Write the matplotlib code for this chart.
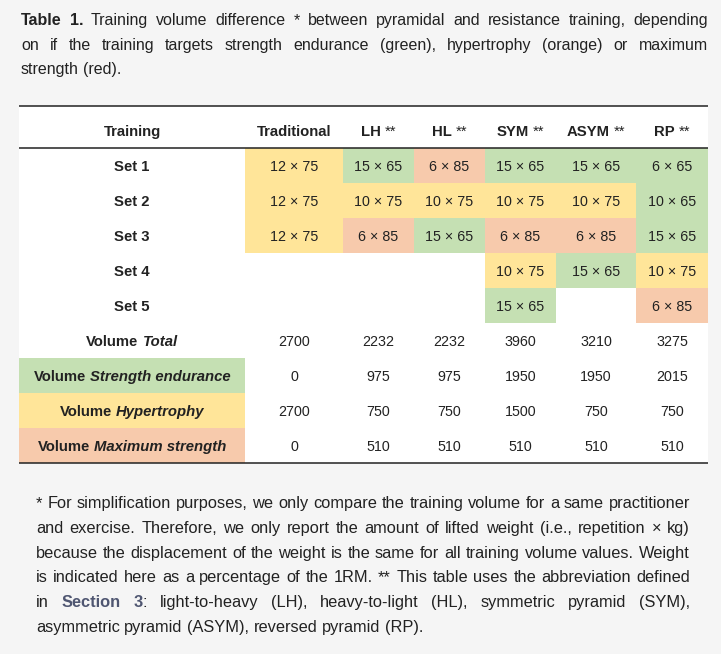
import re

import matplotlib

matplotlib.use("Agg")
import matplotlib.pyplot as plt
from matplotlib.patches import Rectangle

# ---------------- data ----------------
methods = ["Traditional", "LH", "HL", "SYM", "ASYM", "RP"]
method_marks = ["", "**", "**", "**", "**", "**"]

set_labels = ["Set 1", "Set 2", "Set 3", "Set 4", "Set 5"]
set_reps = [
    [12, 15, 6, 15, 15, 6],
    [12, 10, 10, 10, 10, 10],
    [12, 6, 15, 6, 6, 15],
    [None, None, None, 10, 15, 10],
    [None, None, None, 15, None, 6],
]
set_loads = [
    [75, 65, 85, 65, 65, 65],
    [75, 75, 75, 75, 75, 65],
    [75, 85, 65, 85, 85, 65],
    [None, None, None, 75, 65, 75],
    [None, None, None, 65, None, 85],
]
# E = strength endurance, H = hypertrophy, M = maximum strength, - = empty
set_targets = ["HEMEEE", "HHHHHE", "HMEMME", "---HEH", "---E-M"]

volume_labels = ["Total", "Strength endurance", "Hypertrophy", "Maximum strength"]
volume_targets = [None, "E", "H", "M"]
volume_total = [2700, 2232, 2232, 3960, 3210, 3275]
volume_endurance = [0, 975, 975, 1950, 1950, 2015]
volume_hypertrophy = [2700, 750, 750, 1500, 750, 750]
volume_max_strength = [0, 510, 510, 510, 510, 510]
volume_rows = [volume_total, volume_endurance, volume_hypertrophy, volume_max_strength]

title_lines = [
    "{Table} {1.} Training volume difference * between pyramidal and resistance training, depending",
    "on if the training targets strength endurance (green), hypertrophy (orange) or maximum",
    "strength (red).",
]
note_lines = [
    "* For simplification purposes, we only compare the training volume for a same practitioner",
    "and exercise. Therefore, we only report the amount of lifted weight (i.e., repetition \u00d7 kg)",
    "because the displacement of the weight is the same for all training volume values. Weight",
    "is indicated here as a percentage of the 1RM. ** This table uses the abbreviation defined",
    "in {Section} {3}: light-to-heavy (LH), heavy-to-light (HL), symmetric pyramid (SYM),",
    "asymmetric pyramid (ASYM), reversed pyramid (RP).",
]

target_colors = {"E": "#c5e0b3", "H": "#ffe599", "M": "#f7caac"}

# ---------------- layout (pixels) ----------------
W, H = 721, 654
BG = "#f5f5f5"
INK = "#222222"
LINK = "#4f5671"
FONT = ["Liberation Sans", "DejaVu Sans"]
col_edges = [19, 245, 343, 414, 485, 556, 636, 708]
table_top = 106
header_bottom = 148
row_h = 35
cell_size = 10.3
label_size = 10.7
title_size = 11.5
note_size = 11.8

fig = plt.figure(figsize=(W / 100, H / 100), dpi=100, facecolor=BG)
ax = fig.add_axes([0, 0, 1, 1])
ax.set_xlim(0, W)
ax.set_ylim(H, 0)
ax.axis("off")
renderer = fig.canvas.get_renderer()


def put_text(x, base, s, size, weight="normal", style="normal", color=INK, ha="left"):
    # baselines are kept on whole pixels so Agg does not jitter words up/down
    return ax.text(x, base, s, fontsize=size, family=FONT, weight=weight, style=style,
                   color=color, ha=ha, va="baseline")


def text_width(s, size, weight="normal", style="normal"):
    t = ax.text(0, 0, s, fontsize=size, family=FONT, weight=weight, style=style)
    w = t.get_window_extent(renderer).width
    t.remove()
    return w


def space_width(size):
    return text_width("a a", size) - text_width("aa", size)


def draw_runs(x, y, runs, size):
    """runs: (text, weight, style, gap_after); drawn centred on one baseline."""
    sp = space_width(size)
    widths = [text_width(r[0], size, r[1], r[2]) + (sp if r[3] else 0) for r in runs]
    cx = x - sum(widths) / 2
    for (s, wt, st, _), w in zip(runs, widths):
        put_text(cx, y, s, size, wt, st)
        cx += w


def draw_paragraph(lines, x0, x1, base0, step, size, bold_color):
    """Justified paragraph; {..} marks bold words, last line left aligned."""
    sp = space_width(size)
    for i, line in enumerate(lines):
        words = []
        for word in line.split(" "):
            runs = []
            for part in re.split(r"(\{[^}]*\})", word):
                if not part:
                    continue
                if part.startswith("{"):
                    runs.append((part[1:-1], "bold", bold_color))
                else:
                    runs.append((part, "normal", INK))
            widths = [text_width(r[0], size, r[1]) for r in runs]
            words.append((runs, widths))
        total = sum(sum(w) for _, w in words)
        last = i == len(lines) - 1
        gap = sp if last else (x1 - x0 - total) / (len(words) - 1)
        x = x0
        y = round(base0 + i * step)
        for runs, widths in words:
            for (s, wt, c), w in zip(runs, widths):
                put_text(x, y, s, size, wt, color=c)
                x += w
            x += gap


# title and footnote
draw_paragraph(title_lines, 21, 708, 25, 24.5, title_size, INK)
draw_paragraph(note_lines, 36, 690, 508, 24.8, note_size, LINK)

# table background
n_rows = len(set_labels) + len(volume_labels)
table_bottom = header_bottom + n_rows * row_h
ax.add_patch(Rectangle((col_edges[0], table_top), col_edges[-1] - col_edges[0],
                       table_bottom - table_top, facecolor="white", edgecolor="none"))

col_centers = [(a + b) / 2 for a, b in zip(col_edges[:-1], col_edges[1:])]

# header
hb = 136
draw_runs(col_centers[0], hb, [("Training", "bold", "normal", False)], label_size)
for j, (m, mark) in enumerate(zip(methods, method_marks)):
    runs = [(m, "bold", "normal", bool(mark))]
    if mark:
        runs.append((mark, "normal", "normal", False))
    draw_runs(col_centers[j + 1], hb, runs, label_size)

# set rows
for i, lab in enumerate(set_labels):
    top = header_bottom + i * row_h
    base = top + 23
    draw_runs(col_centers[0], base, [(lab, "bold", "normal", False)], label_size)
    for j in range(len(methods)):
        tgt = set_targets[i][j]
        if tgt == "-":
            continue
        x0, x1 = col_edges[j + 1], col_edges[j + 2]
        ax.add_patch(Rectangle((x0, top), x1 - x0, row_h, facecolor=target_colors[tgt],
                               edgecolor="none"))
        put_text(col_centers[j + 1], base, f"{set_reps[i][j]} \u00d7 {set_loads[i][j]}",
                 cell_size, ha="center")

# volume rows
for k, (lab, tgt, vals) in enumerate(zip(volume_labels, volume_targets, volume_rows)):
    top = header_bottom + (len(set_labels) + k) * row_h
    base = top + 23
    if tgt:
        ax.add_patch(Rectangle((col_edges[0], top), col_edges[1] - col_edges[0], row_h,
                               facecolor=target_colors[tgt], edgecolor="none"))
    draw_runs(col_centers[0], base,
              [("Volume", "bold", "normal", True), (lab, "bold", "italic", False)],
              label_size)
    for j, v in enumerate(vals):
        put_text(col_centers[j + 1], base, str(v), cell_size, ha="center")

# rules
for y in (table_top, header_bottom, table_bottom):
    ax.plot([col_edges[0], col_edges[-1]], [y, y], color=INK, lw=1.1, solid_capstyle="butt")

fig.savefig("out.png", dpi=100, facecolor=BG)
